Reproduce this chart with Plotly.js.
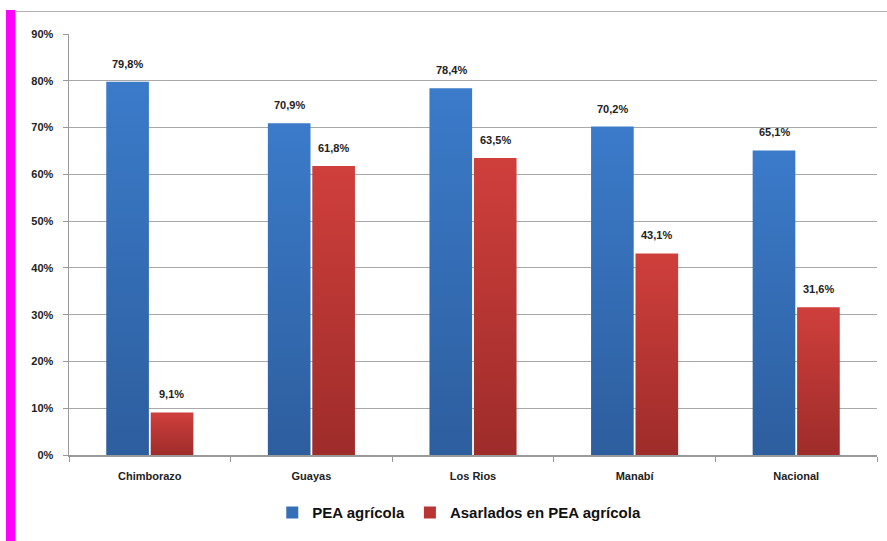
<!DOCTYPE html>
<html>
<head>
<meta charset="utf-8">
<script src="https://cdn.plot.ly/plotly-3.0.1.min.js"></script>
<style>
html,body{margin:0;padding:0;background:#fff;}
#wrap{position:relative;width:887px;height:541px;overflow:hidden;}
#chart{position:absolute;left:0;top:0;width:887px;height:541px;}
#mag{position:absolute;left:6px;top:10px;width:9px;height:531px;background:#ff00ff;}
#frameTop{position:absolute;left:15px;top:11px;width:872px;height:1px;background:#b0b0b0;}
#frameLeft{position:absolute;left:15px;top:11px;width:1px;height:530px;background:#c8c8c8;}
</style>
</head>
<body>
<div id="wrap">
<div id="chart"></div>
<div id="mag"></div>
<div id="frameTop"></div>
<div id="frameLeft"></div>
</div>
<script>
const categories = ["Chimborazo", "Guayas", "Los Rios", "Manabí", "Nacional"];
const peaAgricola = [79.8, 70.9, 78.4, 70.2, 65.1];
const asalariados = [9.1, 61.8, 63.5, 43.1, 31.6];
const seriesNames = ["PEA agrícola", "Asarlados en PEA agrícola"];
const yTickVals = [0, 10, 20, 30, 40, 50, 60, 70, 80, 90];
const yTickText = yTickVals.map(v => v + "%");

const FONT = "Liberation Sans, Arial, sans-serif";
const labelFont = {family: FONT, size: 11, color: "#222", weight: "bold"};

const traces = [
  {type: "bar", name: seriesNames[0], x: categories, y: peaAgricola,
   marker: {color: "#356FB8", line: {width: 0}}},
  {type: "bar", name: seriesNames[1], x: categories, y: asalariados,
   marker: {color: "#B93533", line: {width: 0}}}
];

const fmt = v => v.toFixed(1).replace(".", ",") + "%";
const annotations = [];
[peaAgricola, asalariados].forEach((arr, s) => {
  arr.forEach((v, i) => {
    annotations.push({
      x: categories[i], y: v, xref: "x", yref: "y",
      text: fmt(v), showarrow: false, font: labelFont,
      xshift: s === 0 ? -22 : 22, yshift: 18
    });
  });
});

const layout = {
  width: 887, height: 541,
  margin: {l: 69, r: 10, t: 34, b: 86, autoexpand: false},
  paper_bgcolor: "#fff", plot_bgcolor: "#fff",
  separators: ",.",
  barmode: "group", bargap: 0.45, bargroupgap: 0.04,
  showlegend: true,
  annotations: annotations,
  legend: {
    orientation: "h", x: 0.483, xanchor: "center", y: -0.098, yanchor: "top",
    font: {family: FONT, size: 15, color: "#111", weight: "bold"},
    itemwidth: 30, traceorder: "normal", tracegroupgap: 0
  },
  xaxis: {
    type: "category", tickson: "boundaries", ticks: "outside", ticklen: 5, tickcolor: "#999",
    showline: true, linecolor: "#999", linewidth: 1.5, showgrid: false,
    ticklabelstandoff: 10,
    tickfont: {family: FONT, size: 11, color: "#222", weight: "bold"}
  },
  yaxis: {
    range: [0, 90], tickvals: yTickVals, ticktext: yTickText,
    ticks: "outside", ticklen: 5, tickcolor: "#999",
    showline: true, linecolor: "#999", linewidth: 1.5,
    showgrid: true, gridcolor: "#a8a8a8", gridwidth: 1, zeroline: false,
    ticklabelstandoff: 7,
    tickfont: {family: FONT, size: 11, color: "#222", weight: "bold"}
  }
};

Plotly.newPlot("chart", traces, layout, {displayModeBar: false, staticPlot: true}).then(gd => {
  const svg = gd.querySelector("svg.main-svg");
  const ns = "http://www.w3.org/2000/svg";
  let defs = svg.querySelector("defs");
  const grads = [["gBlue", "#3B7BCA", "#2D5E9E"], ["gRed", "#CF3F3C", "#9E2C2A"]];
  grads.forEach(([id, top, bot]) => {
    const g = document.createElementNS(ns, "linearGradient");
    g.setAttribute("id", id); g.setAttribute("x1", "0"); g.setAttribute("y1", "0");
    g.setAttribute("x2", "0"); g.setAttribute("y2", "1");
    const s1 = document.createElementNS(ns, "stop"); s1.setAttribute("offset", "0"); s1.setAttribute("stop-color", top);
    const s2 = document.createElementNS(ns, "stop"); s2.setAttribute("offset", "1"); s2.setAttribute("stop-color", bot);
    g.appendChild(s1); g.appendChild(s2); defs.appendChild(g);
  });
  gd.querySelectorAll("g.trace.bars").forEach((tg, i) => {
    tg.querySelectorAll("path").forEach(p => { p.style.fill = "url(#" + grads[i][0] + ")"; });
  });
});
</script>
</body>
</html>
